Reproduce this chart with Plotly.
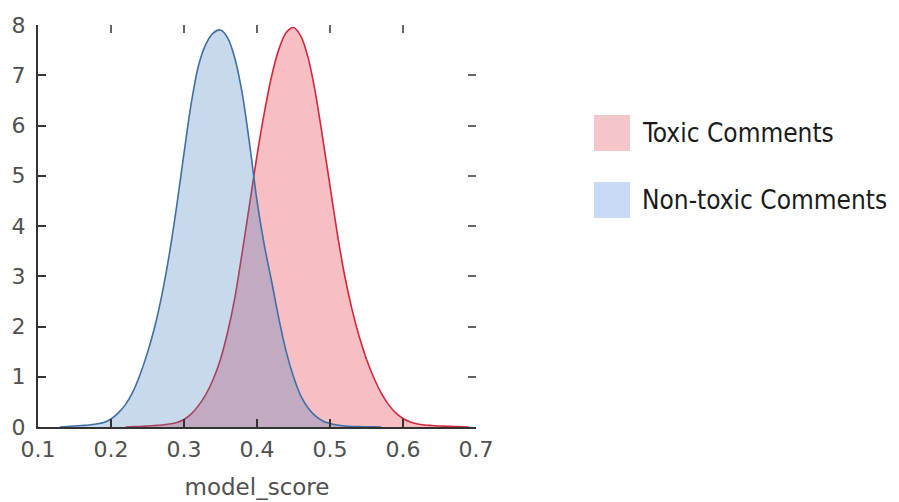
import plotly.graph_objects as go

# ---- data ----
toxic_x = [0.22, 0.23, 0.24, 0.25, 0.26, 0.27, 0.28, 0.29, 0.30, 0.31, 0.32, 0.33, 0.34, 0.35,
           0.36, 0.37, 0.38, 0.39, 0.40, 0.41, 0.42, 0.43, 0.44, 0.45, 0.46, 0.47, 0.48, 0.49,
           0.50, 0.51, 0.52, 0.53, 0.54, 0.55, 0.56, 0.57, 0.58, 0.59, 0.60, 0.61, 0.62, 0.63,
           0.64, 0.65, 0.66, 0.67, 0.68, 0.69]
toxic_y = [0.0, 0.01, 0.01, 0.02, 0.03, 0.04, 0.06, 0.09, 0.15, 0.26, 0.43, 0.65, 0.95, 1.35,
           1.9, 2.6, 3.5, 4.45, 5.4, 6.25, 6.98, 7.52, 7.85, 7.95, 7.78, 7.35, 6.65, 5.75,
           4.8, 3.85, 3.02, 2.35, 1.8, 1.35, 0.98, 0.68, 0.45, 0.28, 0.17, 0.1, 0.06, 0.04,
           0.03, 0.02, 0.015, 0.01, 0.005, 0.0]

nontoxic_x = [0.13, 0.14, 0.15, 0.16, 0.17, 0.18, 0.19, 0.20, 0.21, 0.22, 0.23, 0.24, 0.25, 0.26,
              0.27, 0.28, 0.29, 0.30, 0.31, 0.32, 0.33, 0.34, 0.35, 0.36, 0.37, 0.38, 0.39, 0.40,
              0.41, 0.42, 0.43, 0.44, 0.45, 0.46, 0.47, 0.48, 0.49, 0.50, 0.51, 0.52, 0.53, 0.54,
              0.55, 0.56, 0.57]
nontoxic_y = [0.0, 0.01, 0.02, 0.03, 0.04, 0.06, 0.09, 0.16, 0.28, 0.45, 0.7, 1.05, 1.48, 2.0,
              2.65, 3.45, 4.4, 5.45, 6.45, 7.2, 7.62, 7.84, 7.9, 7.74, 7.32, 6.62, 5.62, 4.5,
              3.62, 2.9, 2.15, 1.5, 1.0, 0.62, 0.38, 0.22, 0.12, 0.07, 0.04, 0.02, 0.01, 0.007,
              0.005, 0.002, 0.0]

x_ticks = [0.1, 0.2, 0.3, 0.4, 0.5, 0.6, 0.7]
x_ticklabels = ["0.1", "0.2", "0.3", "0.4", "0.5", "0.6", "0.7"]
y_ticks = [0, 1, 2, 3, 4, 5, 6, 7, 8]
legend_labels = ["Toxic Comments", "Non-toxic Comments"]
legend_colors = ["#f4c6c9", "#c8d9f4"]

fig = go.Figure()
fig.add_trace(go.Scatter(x=toxic_x, y=toxic_y, mode="lines", fill="tozeroy",
                         line=dict(color="#d2283c", width=1.6, shape="spline", smoothing=0.8),
                         fillcolor="rgba(230,40,60,0.30)", showlegend=False, hoverinfo="skip"))
fig.add_trace(go.Scatter(x=nontoxic_x, y=nontoxic_y, mode="lines", fill="tozeroy",
                         line=dict(color="#3f6fa6", width=1.6, shape="spline", smoothing=0.8),
                         fillcolor="rgba(70,130,190,0.30)", showlegend=False, hoverinfo="skip"))
# empty trace to anchor the mirror-tick axes
fig.add_trace(go.Scatter(x=[None], y=[None], xaxis="x2", yaxis="y2", showlegend=False,
                         hoverinfo="skip"))

tickfont = dict(family="DejaVu Sans", size=22, color="#505050")
fig.update_layout(
    width=899, height=502, autosize=False,
    margin=dict(l=38, r=423, t=25, b=75),
    paper_bgcolor="white", plot_bgcolor="white",
    xaxis=dict(range=[0.1, 0.7], tickvals=x_ticks, ticktext=x_ticklabels,
               ticks="inside", ticklen=8, tickwidth=1.5, tickcolor="#333",
               showline=True, linecolor="#333", linewidth=2, showgrid=False, zeroline=False,
               tickfont=tickfont, ticklabelstandoff=2, automargin=False,
               title=dict(text="model_score", font=dict(family="DejaVu Sans", size=23, color="#505050"),
                          standoff=17)),
    yaxis=dict(range=[0, 8], tickvals=y_ticks, ticks="inside", ticklen=8, tickwidth=1.5,
               tickcolor="#333", showline=True, linecolor="#333", linewidth=2,
               showgrid=False, zeroline=False, tickfont=tickfont, ticklabelstandoff=6,
               automargin=False),
    xaxis2=dict(range=[0.1, 0.7], tickvals=x_ticks, overlaying="x", side="top", anchor="y2",
                ticks="inside", ticklen=8, tickwidth=1.5, tickcolor="#666", automargin=False,
                showticklabels=False, showline=False, showgrid=False, zeroline=False),
    yaxis2=dict(range=[0, 8], tickvals=y_ticks, overlaying="y", side="right", anchor="x2",
                ticks="inside", ticklen=8, tickwidth=1.5, tickcolor="#666", automargin=False,
                showticklabels=False, showline=False, showgrid=False, zeroline=False),
)

# legend drawn as squares + text
legend_font = "Liberation Sans Narrow, DejaVu Sans Condensed, sans-serif"
for i, (lab, col) in enumerate(zip(legend_labels, legend_colors)):
    y0 = 115 + i * 67
    fig.add_shape(type="rect", xref="paper", yref="paper",
                  x0=(594 - 38) / 438, x1=(630 - 38) / 438,
                  y0=(427 - (y0 + 36)) / 402, y1=(427 - y0) / 402,
                  fillcolor=col, line=dict(width=0))
    fig.add_annotation(xref="paper", yref="paper", x=(640 - 38) / 438,
                       y=(427 - (y0 + 18)) / 402, text=lab, showarrow=False,
                       xanchor="left", yanchor="middle",
                       font=dict(family=legend_font, size=26, color="#1a1a1a"))

fig.write_html("out.html")
